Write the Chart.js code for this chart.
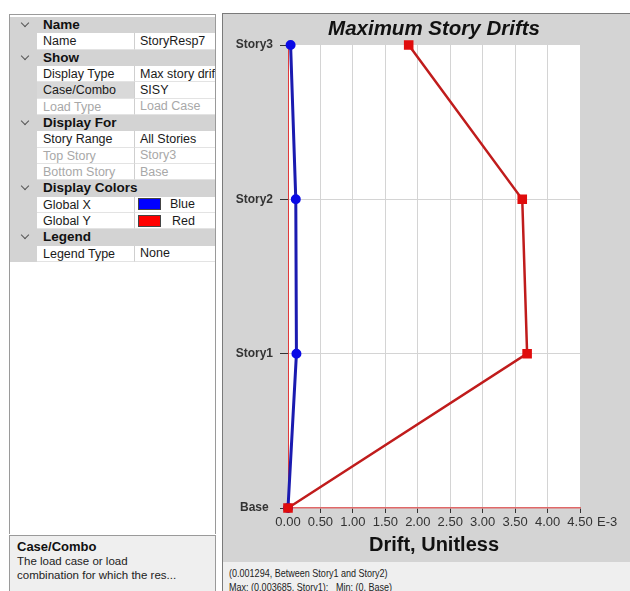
<!DOCTYPE html>
<html>
<head>
<meta charset="utf-8">
<script src="https://cdn.jsdelivr.net/npm/chart.js@4"></script>
<style>
  body { margin:0; width:630px; height:591px; overflow:hidden; background:#fff; position:relative;
         font-family:"Liberation Sans", Arial, sans-serif; }
  #grid { position:absolute; left:9px; top:14px; width:207px; height:520px; border:1px solid #9a9a9a;
          border-bottom:none; background:#fff; padding-top:2px; box-sizing:border-box; }
  .row { height:16.35px; line-height:16px; display:flex; font-size:12.5px; color:#1a1a1a; white-space:nowrap; overflow:hidden; }
  .row span { box-sizing:border-box; }
  .chev { width:27px; flex:none; background:#d3d3d3; position:relative; }
  .chev i { position:absolute; left:12px; top:3px; width:5px; height:5px; border-right:1.5px solid #555;
            border-bottom:1.5px solid #555; transform:rotate(45deg); }
  .hdr { flex:1; background:#d3d3d3; font-weight:bold; font-size:13.5px; padding-left:6px; color:#111; }
  .nm { width:98px; flex:none; padding-left:6px; border-right:1px solid #cfcfcf; border-bottom:1px solid #e3e3e3; }
  .vl { flex:1; padding-left:5px; border-bottom:1px solid #e3e3e3; overflow:hidden; display:flex; align-items:center; }
  .sel { background:#d9d9d9; }
  .dis { color:#a8a8a8; }
  .sw { width:23px; height:12px; flex:none; margin-left:-2px; border:1px solid #444; }
  .swt { flex:1; text-align:right; padding-right:20px; }
  #desc { position:absolute; left:9px; top:535px; width:207px; height:60px; border:1px solid #9a9a9a;
          background:#efefef; font-size:11.5px; line-height:14px; color:#222; padding:4px 0 0 7px; box-sizing:border-box; }
  #desc b { font-size:13px; color:#111; }
  #panel { position:absolute; left:222px; top:13px; width:408px; height:549px; box-sizing:border-box;
           border-left:1px solid #7a7a7a; border-top:1px solid #7a7a7a; background:#d4d4d4; }
  #panel canvas { display:block; }
  #status { position:absolute; left:222px; top:562px; width:408px; height:29px; box-sizing:border-box;
            border-left:1px solid #7a7a7a; background:#efefef; }
  #status div { font-size:10.5px; line-height:14px; color:#222; white-space:pre; position:absolute; left:6px;
                transform:scaleX(0.86); transform-origin:left center; }
</style>
</head>
<body>
<div id="grid">
  <div class="row"><span class="chev"><i></i></span><span class="hdr">Name</span></div>
  <div class="row"><span class="chev"></span><span class="nm">Name</span><span class="vl">StoryResp7</span></div>
  <div class="row"><span class="chev"><i></i></span><span class="hdr">Show</span></div>
  <div class="row"><span class="chev"></span><span class="nm">Display Type</span><span class="vl">Max story drift</span></div>
  <div class="row"><span class="chev"></span><span class="nm sel">Case/Combo</span><span class="vl">SISY</span></div>
  <div class="row dis"><span class="chev"></span><span class="nm">Load Type</span><span class="vl">Load Case</span></div>
  <div class="row"><span class="chev"><i></i></span><span class="hdr">Display For</span></div>
  <div class="row"><span class="chev"></span><span class="nm">Story Range</span><span class="vl">All Stories</span></div>
  <div class="row dis"><span class="chev"></span><span class="nm">Top Story</span><span class="vl">Story3</span></div>
  <div class="row dis"><span class="chev"></span><span class="nm">Bottom Story</span><span class="vl">Base</span></div>
  <div class="row"><span class="chev"><i></i></span><span class="hdr">Display Colors</span></div>
  <div class="row"><span class="chev"></span><span class="nm">Global X</span><span class="vl"><span class="sw" style="background:#0000ff"></span><span class="swt">Blue</span></span></div>
  <div class="row"><span class="chev"></span><span class="nm">Global Y</span><span class="vl"><span class="sw" style="background:#ff0000"></span><span class="swt">Red</span></span></div>
  <div class="row"><span class="chev"><i></i></span><span class="hdr">Legend</span></div>
  <div class="row"><span class="chev"></span><span class="nm">Legend Type</span><span class="vl">None</span></div>
</div>
<div id="desc"><b>Case/Combo</b><br>The load case or load<br>combination for which the res...</div>
<div id="panel"><canvas id="drifts" width="407" height="548"></canvas></div>
<div id="status">
  <div style="top:4px">(0.001294, Between Story1 and Story2)</div>
  <div style="top:18px">Max: (0.003685, Story1);   Min: (0, Base)</div>
</div>

<script>
// drift values, in E-3
var stories = ['Base', 'Story1', 'Story2', 'Story3'];
var driftX = [0, 0.13, 0.12, 0.04];
var driftY = [0, 3.685, 3.61, 1.86];
var xTicks = [0, 0.5, 1, 1.5, 2, 2.5, 3, 3.5, 4, 4.5];

var font = "'Liberation Sans', Arial, sans-serif";

function points(vals) {
    return stories.map(function (s, i) { return { x: vals[i], y: i }; });
}

// white plot area on the gray panel
var plotBg = {
    id: 'plotBg',
    beforeDraw: function (chart) {
        var a = chart.chartArea, ctx = chart.ctx;
        ctx.save();
        ctx.fillStyle = '#ffffff';
        ctx.fillRect(a.left, a.top, a.right - a.left, a.bottom - a.top);
        ctx.restore();
    }
};

// "E-3" unit after the last tick label
var unitLabel = {
    id: 'unitLabel',
    afterDraw: function (chart) {
        var s = chart.scales.x, ctx = chart.ctx;
        ctx.save();
        ctx.font = '13px ' + font;
        ctx.fillStyle = '#333';
        ctx.textAlign = 'left';
        ctx.textBaseline = 'middle';
        ctx.fillText('E-3', s.getPixelForValue(4.5) + 17, s.top + 7 + 7.8);
        ctx.restore();
    }
};

function gridColor(lo, hi) {
    return function (c) {
        var v = c.tick ? c.tick.value : -1;
        return (v > lo && v < hi) ? '#d4d4d4' : 'rgba(0,0,0,0)';
    };
}

new Chart(document.getElementById('drifts'), {
    type: 'scatter',
    data: {
        datasets: [{
            label: 'Global Y',
            data: points(driftY),
            showLine: true,
            borderColor: '#c01c1c',
            borderWidth: 2.5,
            pointStyle: 'rect',
            pointRadius: 5,
            backgroundColor: '#e00d0d',
            pointBorderColor: '#e00d0d',
            clip: false
        }, {
            label: 'Global X',
            data: points(driftX),
            showLine: true,
            borderColor: '#1b1bb0',
            borderWidth: 3,
            pointStyle: 'circle',
            pointRadius: 3.5,
            backgroundColor: '#0a0ae6',
            pointBorderColor: '#0a0ae6',
            clip: false
        }]
    },
    options: {
        responsive: false,
        animation: false,
        layout: { padding: { left: 0, right: 50, top: 0, bottom: 0 } },
        plugins: { legend: { display: false }, tooltip: { enabled: false } },
        scales: {
            x: {
                type: 'linear', position: 'bottom', min: 0, max: 4.5,
                afterBuildTicks: function (s) { s.ticks = xTicks.map(function (v) { return { value: v }; }); },
                afterFit: function (s) { s.height = 54; },
                ticks: {
                    callback: function (v) { return v.toFixed(2); },
                    font: { family: font, size: 13 }, color: '#333',
                    padding: 2, maxRotation: 0, autoSkip: false
                },
                grid: { color: gridColor(0, 4.5), tickColor: '#333', tickLength: 5 },
                border: { color: '#e06868', width: 1.5 },
                title: {
                    display: true, text: 'Drift, Unitless', color: '#111',
                    font: { family: font, size: 20, weight: 'bold' },
                    padding: { top: 0, bottom: 5 }
                }
            },
            xTop: {
                type: 'linear', position: 'top',
                afterFit: function (s) { s.height = 31; },
                ticks: { display: false },
                grid: { display: false },
                border: { display: false },
                title: {
                    display: true, text: 'Maximum Story Drifts', color: '#111',
                    font: { family: font, size: 20.5, weight: 'bold', style: 'italic' },
                    padding: { top: 3, bottom: 0 }
                }
            },
            y: {
                type: 'linear', min: 0, max: 3,
                afterBuildTicks: function (s) { s.ticks = stories.map(function (n, i) { return { value: i }; }); },
                afterFit: function (s) { s.width = 65; },
                ticks: {
                    callback: function (v) { return stories[v]; },
                    crossAlign: 'center', padding: 7,
                    font: { family: font, size: 12, weight: 'bold' }, color: '#333', autoSkip: false
                },
                grid: { color: gridColor(0, 3), tickColor: '#333', tickLength: 8 },
                border: { color: '#e03a3a', width: 1 }
            }
        }
    },
    plugins: [plotBg, unitLabel]
});
</script>
</body>
</html>
